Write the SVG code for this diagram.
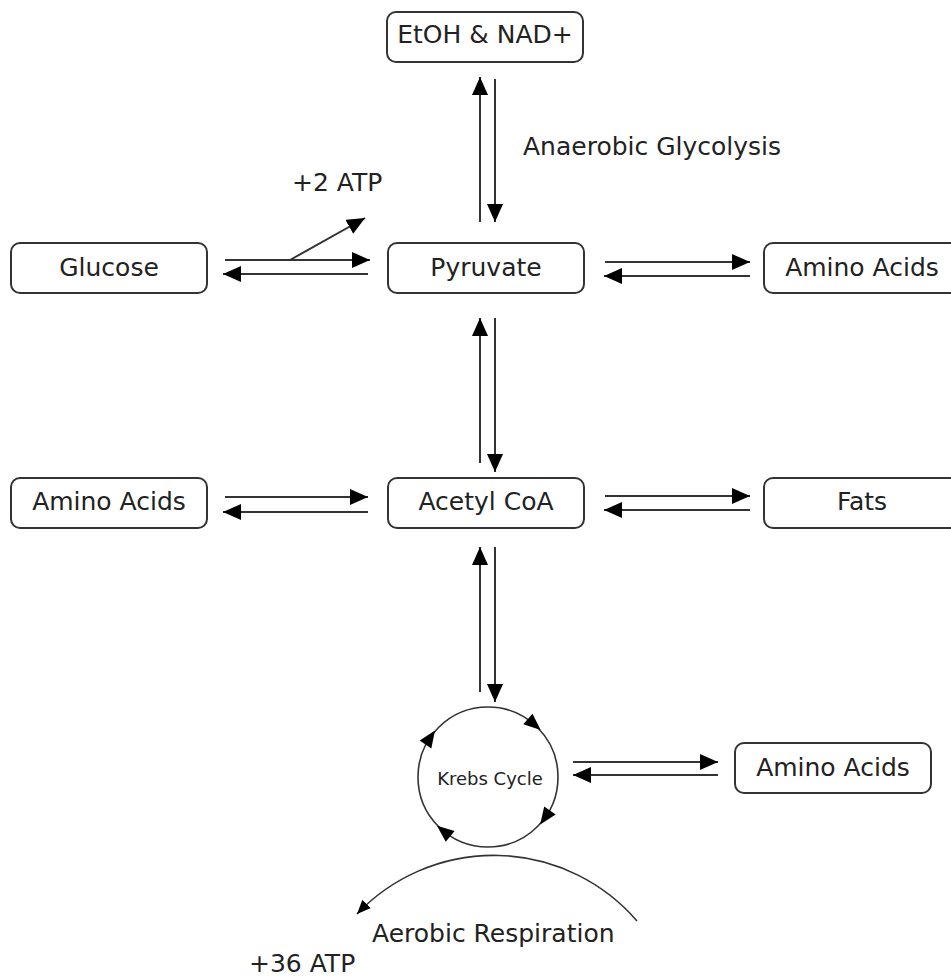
<svg xmlns="http://www.w3.org/2000/svg" width="951" height="977" viewBox="0 0 951 977">
<style>
  .box { fill: #ffffff; stroke: #333333; stroke-width: 2; }
  .lbl { font-family: "DejaVu Sans", Verdana, sans-serif; font-size: 25px; fill: #222222; }
  .mid { text-anchor: middle; }
  .ln { stroke: #333333; stroke-width: 2; fill: none; }
  .thin { stroke: #333333; stroke-width: 1.6; fill: none; }
  .head { fill: #000000; }
</style>
<defs>
  <marker id="ah" markerUnits="userSpaceOnUse" markerWidth="20" markerHeight="18" refX="18" refY="8" orient="auto">
    <path d="M0,0 L18,8 L0,16 z" fill="#000000"/>
  </marker>
  <marker id="ahs" markerUnits="userSpaceOnUse" markerWidth="16" markerHeight="14" refX="14" refY="6" orient="auto">
    <path d="M0,0 L14,6 L0,12 z" fill="#000000"/>
  </marker>
  <path id="ch" class="head" d="M551,769 L565,769 L558,786 z"/>
</defs>
<rect width="951" height="977" fill="#ffffff"/>

<g id="connectors">
  <line class="ln" x1="480" y1="222" x2="480" y2="77" marker-end="url(#ah)"/>
  <line class="ln" x1="495" y1="79" x2="495" y2="222" marker-end="url(#ah)"/>
  <line class="ln" x1="225" y1="260" x2="370" y2="260" marker-end="url(#ah)"/>
  <line class="ln" x1="368" y1="274" x2="223" y2="274" marker-end="url(#ah)"/>
  <line class="ln" x1="290" y1="260" x2="365" y2="218" marker-end="url(#ah)"/>
  <line class="ln" x1="605" y1="262" x2="750" y2="262" marker-end="url(#ah)"/>
  <line class="ln" x1="750" y1="276" x2="604" y2="276" marker-end="url(#ah)"/>
  <line class="ln" x1="480" y1="463" x2="480" y2="318" marker-end="url(#ah)"/>
  <line class="ln" x1="495" y1="318" x2="495" y2="472" marker-end="url(#ah)"/>
  <line class="ln" x1="225" y1="497" x2="368" y2="497" marker-end="url(#ah)"/>
  <line class="ln" x1="368" y1="512" x2="223" y2="512" marker-end="url(#ah)"/>
  <line class="ln" x1="605" y1="496" x2="750" y2="496" marker-end="url(#ah)"/>
  <line class="ln" x1="750" y1="510" x2="604" y2="510" marker-end="url(#ah)"/>
  <line class="ln" x1="480" y1="692" x2="480" y2="547" marker-end="url(#ah)"/>
  <line class="ln" x1="495" y1="547" x2="495" y2="702" marker-end="url(#ah)"/>
  <line class="ln" x1="573" y1="762" x2="718" y2="762" marker-end="url(#ah)"/>
  <line class="ln" x1="718" y1="775" x2="573" y2="775" marker-end="url(#ah)"/>
  <path class="thin" d="M637,921 A189,189 0 0 0 357,914" marker-end="url(#ahs)"/>
</g>

<g id="etoh">
  <rect class="box" x="387" y="12" width="196" height="50" rx="9"/>
  <text class="lbl mid" x="485" y="43">EtOH &amp; NAD+</text>
</g>
<g id="glucose">
  <rect class="box" x="11" y="243" width="196" height="50" rx="9"/>
  <text class="lbl mid" x="109" y="276">Glucose</text>
</g>
<g id="pyruvate">
  <rect class="box" x="388" y="243" width="196" height="50" rx="9"/>
  <text class="lbl mid" x="486" y="276">Pyruvate</text>
</g>
<g id="amino1">
  <rect class="box" x="764" y="243" width="196" height="50" rx="9"/>
  <text class="lbl mid" x="862" y="276">Amino Acids</text>
</g>
<g id="amino2">
  <rect class="box" x="11" y="478" width="196" height="50" rx="9"/>
  <text class="lbl mid" x="109" y="510">Amino Acids</text>
</g>
<g id="acetyl">
  <rect class="box" x="388" y="478" width="196" height="50" rx="9"/>
  <text class="lbl mid" x="486" y="510">Acetyl CoA</text>
</g>
<g id="fats">
  <rect class="box" x="764" y="478" width="196" height="50" rx="9"/>
  <text class="lbl mid" x="862" y="510">Fats</text>
</g>
<g id="amino3">
  <rect class="box" x="735" y="743" width="196" height="50" rx="9"/>
  <text class="lbl mid" x="833" y="776">Amino Acids</text>
</g>
<g id="krebs">
  <circle class="thin" cx="488" cy="777" r="70"/>
  <use href="#ch" transform="rotate(-49 488 777)"/>
  <use href="#ch" transform="rotate(-146 488 777)"/>
  <use href="#ch" transform="rotate(35 488 777)"/>
  <use href="#ch" transform="rotate(129 488 777)"/>
  <text x="490" y="785" text-anchor="middle" font-family="DejaVu Sans, Verdana, sans-serif" font-size="18" fill="#222222">Krebs Cycle</text>
</g>

<g id="labels">
  <text class="lbl" x="292" y="191">+2 ATP</text>
  <text class="lbl" x="523" y="155">Anaerobic Glycolysis</text>
  <text class="lbl" x="372" y="942">Aerobic Respiration</text>
  <text class="lbl" x="249" y="972">+36 ATP</text>
</g>
</svg>
